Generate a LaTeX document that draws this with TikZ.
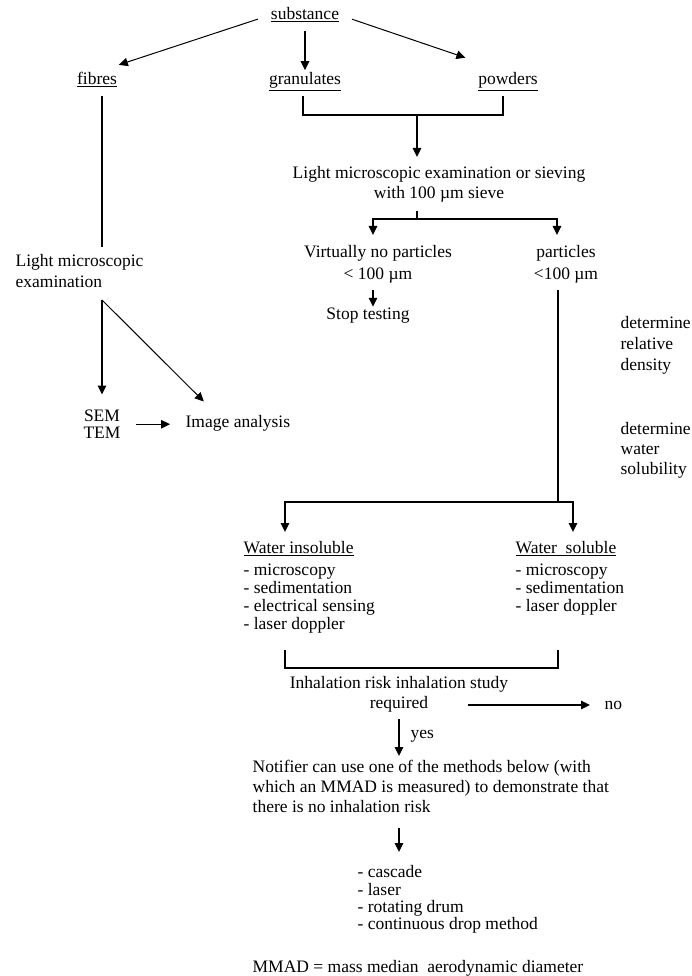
\documentclass[tikz,border=0pt]{standalone}
\usepackage{fontspec}
\setmainfont{Liberation Serif}
\usetikzlibrary{arrows.meta}

\tikzset{
  lbl/.style={inner sep=0pt, anchor=base, font=\fontsize{17.5}{20}\selectfont},
  blk/.style={inner sep=0pt, align=center, anchor=north, font=\fontsize{17.5}{20}\selectfont},
  lst/.style={inner sep=0pt, align=left, anchor=north west, font=\fontsize{17.5}{18.3}\selectfont},
  arr/.style={-{Triangle[length=9pt,width=8.5pt]}},
  thin line/.style={line width=1pt},
}

\begin{document}
\begin{tikzpicture}[x=1pt, y=-1pt, line width=1.3pt]
    \useasboundingbox (0, 0) rectangle (691, 976);

    \node[lbl] (sub) at (305, 20) {\underline{substance}};
    \node[lbl] (fib) at (97, 85) {\underline{fibres}};
    \node[lbl] (gra) at (305, 85) {\underline{granulates}};
    \node[lbl] (pow) at (508, 85) {\underline{powders}};
    \draw[arr, thin line, shorten <=13pt, shorten >=23pt] (sub.west) -- (fib.north);
    \draw[arr, shorten <=8pt, shorten >=2pt] (sub.south) -- (gra.north);
    \draw[arr, thin line, shorten <=13pt, shorten >=45pt] (sub.east) -- (pow.north);

    \coordinate (gl) at (303, 115);
    \coordinate (gr) at (503, 115);
    \coordinate (top) at (417, 115);
    \draw[shorten <=4.5pt, shorten >=4.5pt] (gl |- gra.south) -- (gl) -- (gr) -- (gr |- pow.south);
    \node[blk] (lme) at (439, 166) {Light microscopic examination or sieving\\with 100 µm sieve};
    \draw[arr, shorten >=9pt] (top) -- (top |- lme.north);

    \coordinate (sp) at (417, 219);
    \coordinate (spl) at (373, 219);
    \coordinate (spr) at (557, 219);
    \node[blk, font=\fontsize{17.5}{22}\selectfont] (vnp) at (378, 245) {Virtually no particles\\< 100 µm};
    \node[blk, font=\fontsize{17.5}{22}\selectfont] (par) at (566, 245) {particles\\<100 µm};
    \node[lbl] (stop) at (368, 319) {Stop testing};
    \draw[shorten <=8pt] (lme.south -| sp) -- (sp);
    \draw[arr, shorten >=10pt] (sp) -- (spl) -- (spl |- vnp.north);
    \draw[arr, shorten >=10pt] (sp) -- (spr) -- (spr |- par.north);
    \draw[arr, shorten <=6pt] (spl |- vnp.south) -- (spl |- stop.north);

    \node[lst, font=\fontsize{17.5}{21}\selectfont] (dens) at (620, 316) {determine\\relative\\density};
    \node[lst, font=\fontsize{17.5}{20}\selectfont] (solu) at (620, 422) {determine\\water\\solubility};

    \coordinate (ws) at (558, 502);
    \coordinate (wl) at (285, 502);
    \coordinate (wr) at (573, 502);
    \node[lst] (wins) at (243, 541) {\underline{Water insoluble}\\[3pt]- microscopy\\- sedimentation\\- electrical sensing\\- laser doppler};
    \node[lst] (wsol) at (515, 541) {\underline{Water\ \ soluble}\\[3pt]- microscopy\\- sedimentation\\- laser doppler};
    \draw[shorten <=6pt] (ws |- par.south) -- (ws);
    \draw[arr, shorten >=9pt] (ws) -- (wl) -- (wl |- wins.north);
    \draw[arr, shorten >=9pt] (ws) -- (wr) -- (wr |- wsol.north);

    \coordinate (bl) at (285, 668);
    \coordinate (br) at (558, 668);
    \draw[shorten <=16pt, shorten >=16pt] (bl |- wins.south) -- (bl) -- (br) -- (br |- wins.south);

    \node[blk] (inh) at (399, 676) {Inhalation risk inhalation study\\required};
    \node[lbl, anchor=base west] (no) at (604, 709) {no};
    \coordinate (nofrom) at (468, 705);
    \draw[arr, shorten >=14pt] (nofrom) -- (nofrom -| no.west);

    \node[lst, font=\fontsize{17.5}{20}\selectfont] (note) at (252, 760) {Notifier can use one of the methods below (with\\which an MMAD is measured) to demonstrate that\\there is no inhalation risk};
    \draw[arr, shorten <=6pt, shorten >=4pt] (inh.south) -- node[lbl, anchor=west, xshift=11pt] (yes) {yes} (inh.south |- note.north);

    \node[lst, font=\fontsize{17.5}{17.3}\selectfont] (meth) at (357, 865) {- cascade\\- laser\\- rotating drum\\- continuous drop method};
    \draw[arr, shorten <=14pt, shorten >=13pt] (inh.south |- note.south) -- (inh.south |- meth.north);
    \node[lbl, anchor=base west] (mmad) at (252, 972) {MMAD = mass median\ \ aerodynamic diameter};

    \node[lst, font=\fontsize{17.5}{21}\selectfont] (lm) at (15, 254) {Light microscopic\\examination};
    \coordinate (fx) at (102, 300);
    \draw[shorten <=8.5pt, shorten >=7pt] (fx |- fib.south) -- (fx |- lm.north);
    \node[blk, font=\fontsize{17.5}{16.5}\selectfont] (sem) at (102, 409.5) {SEM\\TEM};
    \node[lbl, anchor=base west] (img) at (185, 427) {Image analysis};
    \draw[arr, shorten >=15pt] (fx) -- (fx |- sem.north);
    \draw[arr, thin line, shorten >=18pt] (fx) -- (img.158);
    \draw[arr, shorten <=15pt, shorten >=15pt] (sem.east) -- (sem.east -| img.west);
\end{tikzpicture}
\end{document}
